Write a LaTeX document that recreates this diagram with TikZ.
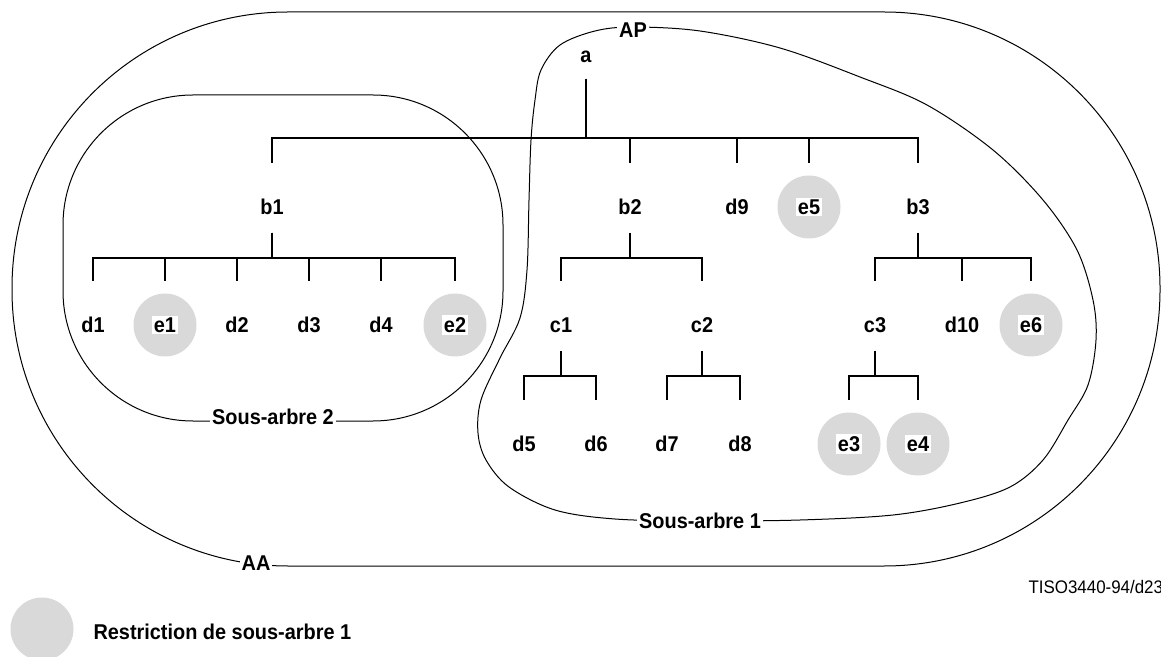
\documentclass[tikz,border=0pt]{standalone}
\usepackage{fontspec}
\setmainfont{Liberation Sans}[FakeStretch=0.93]
\usetikzlibrary{calc}

\definecolor{shade}{RGB}{217,217,217}
\tikzset{
    lbl/.style={font=\fontsize{10.7}{12}\selectfont\bfseries, inner sep=0pt},
    tag/.style={font=\fontsize{10.7}{12}\selectfont\bfseries, fill=white, inner sep=1pt},
    disc/.style={circle, fill=shade, minimum size=31.5pt, inner sep=0pt},
    leaf/.style={disc, label={[tag]center:#1}},
    tree/.style={line width=0.6pt},
}

\begin{document}
\begin{tikzpicture}[x=0.5pt, y=-0.5pt, line width=0.5pt]

    \useasboundingbox (0,0) rectangle (1161,657);

    % zones
    \draw[rounded corners=138pt] (12,12) rectangle (1160,566);
    \draw[rounded corners=65pt] (63,95) rectangle (503,421);
    \draw plot[smooth cycle, tension=0.55] coordinates {
        (633,27) (700,31) (780,48) (860,77) (927,105) (993,150) (1043,200)
        (1077,250) (1093,300) (1096,340) (1088,385) (1068,420) (1043,460)
        (1010,487) (960,503) (893,515) (800,520) (700,521) (615,519)
        (555,510) (509,487) (486,460) (478,433) (481,400) (500,358)
        (520,318) (527,270) (529,200) (531,140) (535,100) (541,70)
        (560,45) (595,31)};

    % tree nodes
    \node[lbl] (a) at (586,57) {a};
    \foreach \n/\x in {b1/272, b2/630, d9/737, b3/918}
        \node[lbl] (\n) at (\x,207) {\n};
    \foreach \n/\x in {d1/93, d2/237, d3/309, d4/381, c1/561, c2/702, c3/875, d10/962}
        \node[lbl] (\n) at (\x,325) {\n};
    \foreach \n/\x in {d5/524, d6/596, d7/667, d8/740}
        \node[lbl] (\n) at (\x,444) {\n};
    \foreach \n/\x/\y in {e5/809/207, e1/165/325, e2/455/325, e6/1031/325, e3/849/444, e4/918/444}
        \node[leaf=\n] (\n) at (\x,\y) {};

    % links
    \foreach \k in {b1,b2,d9,e5,b3}
        \draw[tree] (a.center) ++(0,22) -- ++(0,59) -| ([yshift=22pt]\k.center);
    \foreach \p/\kids in {b1/{d1,e1,d2,d3,d4,e2}, b2/{c1,c2}, b3/{c3,d10,e6},
                          c1/{d5,d6}, c2/{d7,d8}, c3/{e3,e4}}
        \foreach \k in \kids
            \draw[tree] (\p.center) ++(0,26) -- ++(0,25) -| ([yshift=22pt]\k.center);

    % zone names
    \node[tag] (AP) at (633,30) {AP};
    \node[tag] (AA) at (256,563) {AA};
    \node[tag] (sub2) at (273,417) {Sous-arbre 2};
    \node[tag] (sub1) at (700,521) {Sous-arbre 1};

    % key
    \node[disc] (key) at (42,629) {};
    \node[lbl, anchor=west] (keytext) at (93,632) {Restriction de sous-arbre 1};
    \node[anchor=west, inner sep=0pt, font=\fontsize{9.1}{10}\selectfont] (ref) at (1028,587) {TISO3440-94/d23};

\end{tikzpicture}
\end{document}
